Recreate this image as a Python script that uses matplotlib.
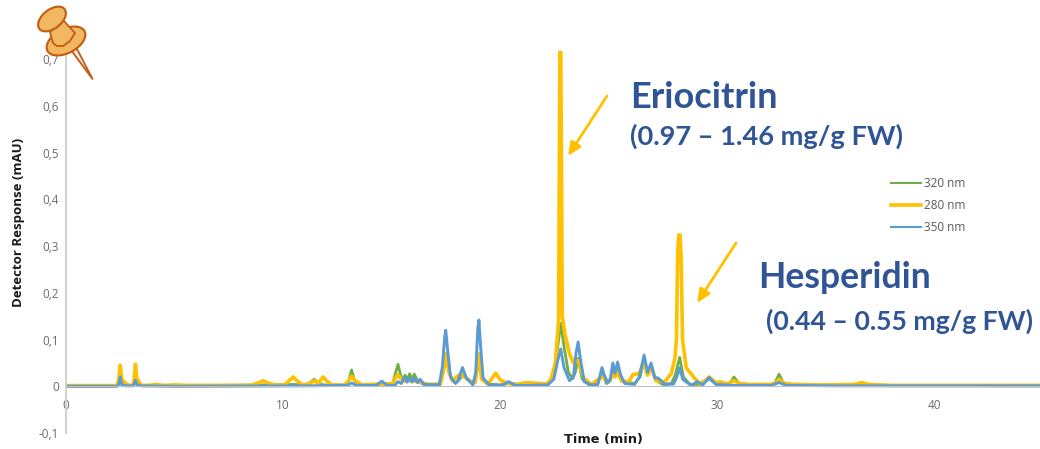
import matplotlib
matplotlib.use('Agg')
import matplotlib.pyplot as plt
from matplotlib.patches import Ellipse, Polygon

plt.rcParams['font.family'] = ['Open Sans', 'DejaVu Sans']

points_320 = [
    (0, .001), (2.35, .001), (2.44, .006), (2.5, .015), (2.56, .006), (2.75, .002), (3.08, .002), (3.15, .006),
    (3.2, .012), (3.26, .005), (3.45, .002), (5, .001), (9.08, .003), (10.47, .004), (11.05, .003), (11.25, .008),
    (11.43, .015), (11.62, .008), (11.85, .003), (12.85, .003), (13.03, .012), (13.16, .035), (13.3, .012),
    (13.6, .003), (14.55, .005), (15.05, .005), (15.18, .028), (15.3, .047), (15.42, .024), (15.52, .013),
    (15.62, .024), (15.72, .014), (15.84, .027), (15.94, .014), (16.05, .026), (16.22, .01), (16.5, .004), (17.2, .005),
    (17.36, .03), (17.5, .07), (17.65, .03), (17.9, .008), (18.05, .01), (18.3, .025), (18.55, .012),
    (18.85, .008), (18.97, .04), (19.03, .07), (19.15, .02), (19.4, .005), (20, .003), (20.4, .006), (21.2, .003),
    (22.2, .004), (22.45, .02), (22.62, .07), (22.8, .135), (22.95, .085), (23.15, .03), (23.35, .016), (23.47, .03),
    (23.6, .06), (23.78, .016), (24.1, .003), (24.5, .004), (24.7, .03), (24.9, .006), (25.08, .012), (25.2, .04),
    (25.3, .022), (25.42, .042), (25.65, .01), (26.2, .006), (26.45, .02), (26.64, .055), (26.8, .025), (26.96, .045),
    (27.2, .012), (27.5, .004), (27.9, .006), (28.08, .025), (28.28, .062), (28.45, .02), (28.75, .004), (29.2, .004),
    (29.64, .016), (29.95, .005), (30.4, .004), (30.62, .008), (30.78, .02), (31, .007), (31.4, .004), (32.4, .003),
    (32.68, .008), (32.86, .026), (33.05, .008), (33.4, .003), (35.5, .002), (36.67, .004), (38, .002), (45, .001),
]

points_280 = [
    (0, .0015), (2.35, .0015), (2.43, .015), (2.5, .045), (2.57, .015), (2.72, .007), (2.9, .002), (3.1, .003),
    (3.15, .02), (3.2, .047), (3.26, .018), (3.45, .002), (3.8, .002), (4.1, .004), (4.5, .002), (5.0, .003),
    (5.6, .002), (7.5, .002), (8.5, .002), (8.85, .007), (9.08, .012), (9.3, .007), (9.7, .002), (10.1, .004),
    (10.33, .014), (10.47, .02), (10.62, .013), (10.9, .003), (11.2, .005), (11.43, .012), (11.65, .006), (11.74, .014),
    (11.85, .02), (12.0, .012), (12.25, .003), (12.85, .003), (13.03, .012), (13.16, .022), (13.32, .012),
    (13.65, .003), (14.55, .005), (15.05, .005), (15.2, .02), (15.3, .025), (15.44, .016), (15.6, .011),
    (15.85, .012), (16.05, .011), (16.3, .009), (16.7, .004), (17.25, .004), (17.38, .03), (17.5, .07),
    (17.65, .03), (17.8, .012), (18.0, .02), (18.18, .026), (18.35, .02), (18.6, .012), (18.85, .008),
    (18.96, .05), (19.03, .068), (19.15, .015), (19.45, .005), (19.65, .018), (19.8, .028), (20.05, .012),
    (20.4, .006), (20.8, .004), (21.2, .008), (22.15, .005), (22.35, .015), (22.55, .05), (22.7, .14), (22.73, .42),
    (22.76, .715), (22.8, .715), (22.84, .42), (22.87, .15), (23.0, .11), (23.2, .07), (23.38, .05), (23.6, .055), (23.85, .018),
    (24.2, .004), (24.7, .02), (25.0, .01), (25.2, .025), (25.3, .02), (25.42, .03), (25.6, .011), (25.95, .01), (26.12, .025),
    (26.4, .027), (26.64, .05), (26.8, .024), (26.96, .04), (27.2, .011), (27.6, .01), (27.9, .028), (28.06, .06),
    (28.13, .1), (28.19, .29), (28.24, .324), (28.3, .324), (28.35, .27), (28.41, .1), (28.58, .04), (28.75, .03), (28.95, .018),
    (29.2, .006), (29.45, .012), (29.64, .02), (29.95, .007), (30.14, .01), (30.45, .005), (30.78, .012), (31.05, .006),
    (31.5, .004), (32.5, .004), (32.7, .007), (32.86, .015), (33.1, .006), (33.6, .004), (35, .003), (36.3, .004), (36.67, .008),
    (37, .004), (38, .002), (45, .002),
]

points_350 = [
    (0, 0), (2.35, 0), (2.44, .005), (2.5, .02), (2.56, .004), (2.72, .001), (3.08, .001), (3.15, .005),
    (3.2, .013), (3.26, .004), (3.45, .001), (5, 0), (11, .001), (12.95, .002), (13.16, .007), (13.4, .002),
    (14.3, .002), (14.55, .011), (14.8, .002), (15.15, .002), (15.3, .01), (15.45, .006), (15.6, .02), (15.72, .009),
    (15.84, .018), (15.95, .009), (16.05, .017), (16.2, .008), (16.32, .015), (16.5, .004), (17.2, .003),
    (17.34, .04), (17.45, .105), (17.5, .12), (17.58, .08), (17.72, .02), (17.95, .006), (18.08, .014), (18.27, .04),
    (18.45, .018), (18.75, .003), (18.88, .03), (18.98, .125), (19.03, .142), (19.1, .09), (19.22, .018), (19.5, .003),
    (20.1, .002), (20.4, .01), (20.7, .002), (21.2, .002), (22.2, .003), (22.48, .015), (22.66, .055), (22.8, .08),
    (22.95, .04), (23.2, .012), (23.38, .02), (23.5, .07), (23.6, .095), (23.7, .06), (23.88, .01), (24.2, .003), (24.5, .004),
    (24.62, .025), (24.7, .04), (24.8, .025), (24.96, .007), (25.08, .014), (25.2, .05), (25.3, .028), (25.42, .052),
    (25.55, .025), (25.75, .006), (26.2, .004), (26.42, .02), (26.64, .067), (26.8, .03), (26.96, .05), (27.13, .018),
    (27.28, .018), (27.6, .004), (28.0, .005), (28.15, .02), (28.28, .04), (28.42, .015), (28.8, .002), (29.1, .01),
    (29.35, .003), (29.64, .019), (29.95, .004), (30.4, .003), (30.7, .002), (32.5, .002), (32.86, .008), (33.2, .002),
    (35.5, .001), (38, .001), (45, .001),
]

t_320, y_320 = zip(*points_320)
t_280, y_280 = zip(*points_280)
t_350, y_350 = zip(*points_350)

x_ticks = [0, 10, 20, 30, 40]
y_ticks = [-0.1, 0, 0.1, 0.2, 0.3, 0.4, 0.5, 0.6, 0.7]
y_tick_labels = ['-0,1', '0', '0,1', '0,2', '0,3', '0,4', '0,5', '0,6', '0,7']

W, H = 1040, 449
fig = plt.figure(figsize=(W / 100, H / 100), dpi=100)

# axes calees sur les pixels de l'image
y_top = 50
ax = fig.add_axes([66 / W, 1 - 433 / H, (W - 66) / W, (433 - y_top) / H])
ax.set_xlim(0, (W - 66) / 21.7)
ax.set_ylim(-0.1, -0.1 + (433 - y_top) / 467.0)

ax.plot(t_320, y_320, color='#70ad47', lw=2.0, label='320 nm', solid_joinstyle='round')
ax.plot(t_280, y_280, color='#ffc000', lw=2.6, label='280 nm', solid_joinstyle='round')
ax.plot(t_350, y_350, color='#5b9bd5', lw=2.1, label='350 nm', solid_joinstyle='round')

for s in ['top', 'right']:
    ax.spines[s].set_visible(False)
ax.spines['bottom'].set_position(('data', 0))
ax.spines['bottom'].set_color('#bfbfbf')
ax.spines['left'].set_color('#d0d0d0')
ax.spines['left'].set_linewidth(1.4)
ax.set_xticks(x_ticks)
ax.set_yticks(y_ticks)
ax.set_yticklabels(y_tick_labels)
ax.tick_params(length=0, labelsize=8.5, labelcolor='#6b6b6b')
ax.tick_params(axis='x', pad=9)
ax.tick_params(axis='y', pad=5)

leg = ax.legend(loc='center left', bbox_to_anchor=((880 - 66) / (W - 66), (433 - 205.5) / (433 - y_top)),
                frameon=False, fontsize=8.5, labelcolor='#595959', handlelength=2.55, handletextpad=0.25,
                labelspacing=0.78)
for line, lw in zip(leg.get_lines(), [1.5, 2.6, 1.5]):
    line.set_linewidth(lw)

# labels en texte libre, dans un axe en pixels par-dessus
px = fig.add_axes([0, 0, 1, 1])
px.set_xlim(0, W)
px.set_ylim(H, 0)
px.axis('off')
px.patch.set_alpha(0)

px.text(603.5, 440, 'Time (min)', fontsize=9.3, fontweight='bold', family='DejaVu Sans',
        ha='center', va='center', color='#1a1a1a')
px.text(19, 222, 'Detector Response (mAU)', fontsize=9.5, fontweight='bold', rotation=90,
        ha='center', va='center', color='#1a1a1a')

blue = '#2f5597'
px.text(630, 97, 'Eriocitrin', fontsize=26, fontweight='bold', color=blue, family='Lato', va='center')
px.text(630, 136, '(0.97 – 1.46 mg/g FW)', fontsize=19.6, fontweight='bold', color=blue, family='Lato', va='center')
px.text(758, 277, 'Hesperidin', fontsize=25.6, fontweight='bold', color=blue, family='Lato', va='center')
px.text(766, 321, '(0.44 – 0.55 mg/g FW)', fontsize=19.2, fontweight='bold', color=blue, family='Lato', va='center')

for start, end in [((607, 96), (568, 156)), ((736, 243), (697, 303))]:
    px.annotate('', xy=end, xytext=start,
                arrowprops=dict(arrowstyle='-|>,head_length=0.8,head_width=0.35', color='#ffc000', lw=2.0,
                                shrinkA=0, shrinkB=0))

# punaise
edge = '#c55a11'
face = '#f0b860'
px.add_patch(Polygon([(71, 50), (77, 49), (92.5, 79)], closed=True, fc='#eeeeee', ec=edge, lw=1.3, joinstyle='round'))
px.add_patch(Ellipse((66, 41), 42, 24, angle=-28, fc=face, ec=edge, lw=1.5))
px.add_patch(Polygon([(50, 32), (53, 43), (57, 46), (63, 46), (70, 41), (75, 33), (63, 20)], closed=True,
                     fc=face, ec=edge, lw=1.3))
px.add_patch(Ellipse((52, 19), 32, 19, angle=-38, fc=face, ec=edge, lw=1.5))

fig.savefig('out.png', dpi=100)
